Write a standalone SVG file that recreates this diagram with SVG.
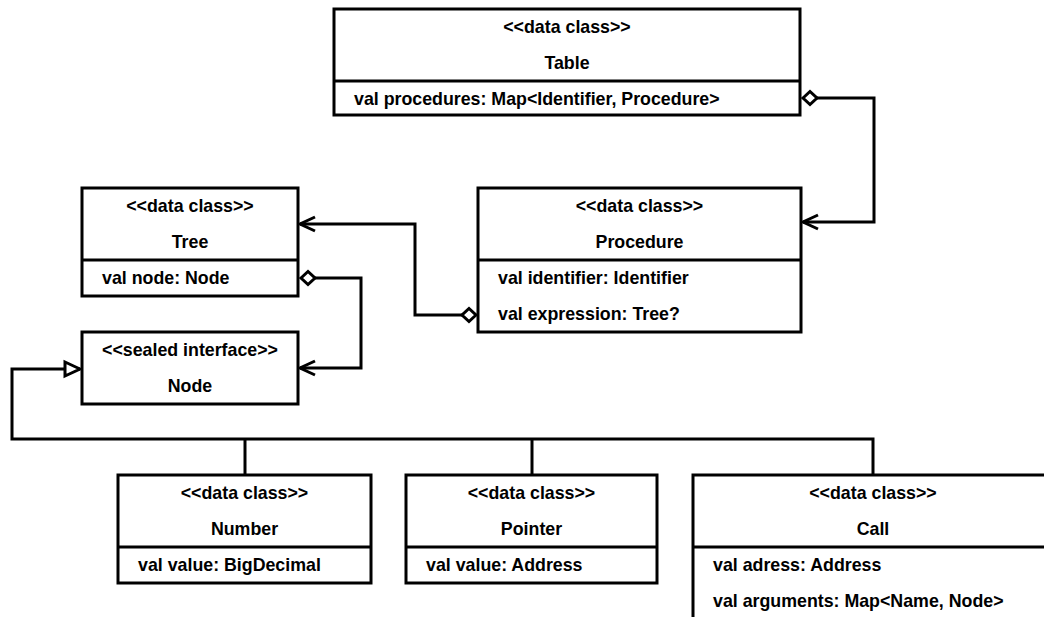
<svg xmlns="http://www.w3.org/2000/svg" width="1044" height="617" viewBox="0 0 1044 617">
  <style>
    .box { fill: #ffffff; stroke: #000000; stroke-width: 3; }
    .sep { stroke: #000000; stroke-width: 3; }
    .t { font-family: "Liberation Sans", Arial, sans-serif; font-size: 17.8px; font-weight: bold; fill: #000000; }
    .c { text-anchor: middle; }
    .edge { fill: none; stroke: #000000; stroke-width: 3; stroke-linejoin: miter; }
  </style>
  <defs>
    <marker id="diamond" markerUnits="userSpaceOnUse" orient="auto" refX="0" refY="0" markerWidth="20" markerHeight="20" style="overflow:visible">
      <path d="M0,0 L7,-6.5 L14,0 L7,6.5 Z" fill="#ffffff" stroke="#000000" stroke-width="3"/>
    </marker>
    <marker id="open" markerUnits="userSpaceOnUse" orient="auto" refX="0" refY="0" markerWidth="20" markerHeight="20" style="overflow:visible">
      <path d="M-15,-7 L0,0 L-15,7" fill="none" stroke="#000000" stroke-width="3"/>
    </marker>
    <marker id="triangle" markerUnits="userSpaceOnUse" orient="auto" refX="0" refY="0" markerWidth="20" markerHeight="20" style="overflow:visible">
      <path d="M0,0 L-15,-7 L-15,7 Z" fill="#ffffff" stroke="#000000" stroke-width="3"/>
    </marker>
  </defs>

  <rect width="1044" height="617" fill="#ffffff"/>

  <g id="connectors">
    <!-- generalization: subclasses to Node -->
    <path class="edge" d="M245,475 V439"/>
    <path class="edge" d="M532,475 V439"/>
    <path class="edge" d="M873,475 V439 H12 V369 H80" marker-end="url(#triangle)"/>
    <!-- Table.procedures -> Procedure -->
    <path class="edge" d="M803,98 H874 V222 H803" marker-start="url(#diamond)" marker-end="url(#open)"/>
    <!-- Procedure.expression -> Tree -->
    <path class="edge" d="M476,315 H415 V224 H300" marker-start="url(#diamond)" marker-end="url(#open)"/>
    <!-- Tree.node -> Node -->
    <path class="edge" d="M301,278 H361 V368 H300" marker-start="url(#diamond)" marker-end="url(#open)"/>
  </g>

  <g id="table">
    <rect class="box" x="334" y="9" width="466" height="106"/>
    <line class="sep" x1="334" y1="81" x2="800" y2="81"/>
    <text class="t c" x="567" y="33">&lt;&lt;data class&gt;&gt;</text>
    <text class="t c" x="567" y="69">Table</text>
    <text class="t" x="354" y="105">val procedures: Map&lt;Identifier, Procedure&gt;</text>
  </g>

  <g id="procedure">
    <rect class="box" x="478" y="188" width="323" height="144"/>
    <line class="sep" x1="478" y1="260" x2="801" y2="260"/>
    <text class="t c" x="639.5" y="212">&lt;&lt;data class&gt;&gt;</text>
    <text class="t c" x="639.5" y="248">Procedure</text>
    <text class="t" x="498" y="284">val identifier: Identifier</text>
    <text class="t" x="498" y="320">val expression: Tree?</text>
  </g>

  <g id="tree">
    <rect class="box" x="82" y="188" width="216" height="108"/>
    <line class="sep" x1="82" y1="260" x2="298" y2="260"/>
    <text class="t c" x="190" y="212">&lt;&lt;data class&gt;&gt;</text>
    <text class="t c" x="190" y="248">Tree</text>
    <text class="t" x="102" y="284">val node: Node</text>
  </g>

  <g id="node">
    <rect class="box" x="82" y="332" width="216" height="72"/>
    <text class="t c" x="190" y="356">&lt;&lt;sealed interface&gt;&gt;</text>
    <text class="t c" x="190" y="392">Node</text>
  </g>

  <g id="number">
    <rect class="box" x="118" y="475" width="253" height="108"/>
    <line class="sep" x1="118" y1="547" x2="371" y2="547"/>
    <text class="t c" x="244.5" y="499">&lt;&lt;data class&gt;&gt;</text>
    <text class="t c" x="244.5" y="535">Number</text>
    <text class="t" x="138" y="571">val value: BigDecimal</text>
  </g>

  <g id="pointer">
    <rect class="box" x="406" y="475" width="251" height="108"/>
    <line class="sep" x1="406" y1="547" x2="657" y2="547"/>
    <text class="t c" x="531.5" y="499">&lt;&lt;data class&gt;&gt;</text>
    <text class="t c" x="531.5" y="535">Pointer</text>
    <text class="t" x="426" y="571">val value: Address</text>
  </g>

  <g id="call">
    <rect class="box" x="693" y="475" width="360" height="180"/>
    <line class="sep" x1="693" y1="547" x2="1053" y2="547"/>
    <text class="t c" x="873" y="499">&lt;&lt;data class&gt;&gt;</text>
    <text class="t c" x="873" y="535">Call</text>
    <text class="t" x="713" y="571">val adress: Address</text>
    <text class="t" x="713" y="607">val arguments: Map&lt;Name, Node&gt;</text>
  </g>
</svg>
